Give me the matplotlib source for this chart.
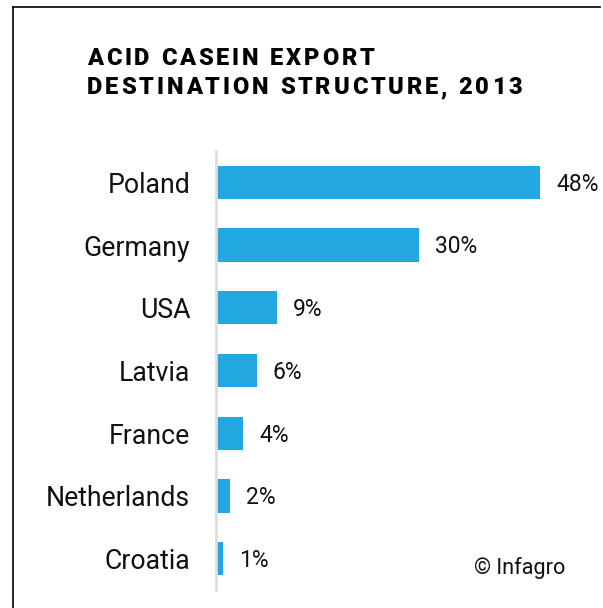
import matplotlib.pyplot as plt
from matplotlib.lines import Line2D
from matplotlib import font_manager
from matplotlib.ft2font import FT2Font

countries = ['Poland', 'Germany', 'USA', 'Latvia', 'France', 'Netherlands', 'Croatia']
shares = [48, 30, 9, 6, 4, 2, 1]
title_lines = ['ACID CASEIN EXPORT', 'DESTINATION STRUCTURE, 2013']
bar_color = '#22a7e0'

plt.rcParams['font.family'] = ['Roboto', 'DejaVu Sans']

W, H = 603, 608
fig = plt.figure(figsize=(W / 100, H / 100), dpi=100)
ax = fig.add_axes([216 / W, 1 - 590 / H, (600 - 216) / W, (590 - 151) / H])

ypos = list(range(len(countries)))
ax.barh(ypos, shares, height=0.53, color=bar_color)
ax.set_ylim(len(countries) - 0.5, -0.5)
ax.set_xlim(0, (600 - 216) / 6.75)

for y, v in zip(ypos, shares):
    ax.text(v + 2.4, y + 0.03, f'{v}%', va='center', ha='left', fontsize=16.5, color='#111111')

ax.set_yticks(ypos)
ax.set_yticklabels(countries, fontsize=19.2, color='#111111')
ax.tick_params(axis='y', length=0, pad=18.5)
ax.set_xticks([])
for s in ['top', 'right', 'bottom']:
    ax.spines[s].set_visible(False)
ax.spines['left'].set_color('#dddddd')
ax.spines['left'].set_linewidth(2)

# title with letter spacing, placed char by char
title_size = 17
tracking = 3.0  # extra px between letters
fp = font_manager.FontProperties(family='Roboto', weight='heavy')
ft = FT2Font(font_manager.findfont(fp))
ft.set_size(title_size, 100)
# fit tracking so the second line spans the same width as the reference
adv = sum(ft.load_char(ord(c)).linearHoriAdvance / 65536 for c in title_lines[1])
tracking = (522 - 87 - adv) / (len(title_lines[1]) - 1)
baselines = [65, 94]
for line, base in zip(title_lines, baselines):
    x = 87.0
    for ch in line:
        fig.text(x / W, 1 - base / H, ch, fontproperties=fp, fontsize=title_size,
                 va='baseline', ha='left', color='black')
        g = ft.load_char(ord(ch))
        x += g.linearHoriAdvance / 65536 + tracking

fig.text(565 / W, 1 - 568 / H, '© Infagro', fontsize=15.6, ha='right', va='center', color='#111111')

# frame lines at top and left
fig.add_artist(Line2D([13 / W, 13 / W], [0, 1 - 7 / H], color='black', lw=1.2))
fig.add_artist(Line2D([13 / W, 600 / W], [1 - 7 / H, 1 - 7 / H], color='black', lw=1.2))

fig.savefig('out.png', dpi=100)
